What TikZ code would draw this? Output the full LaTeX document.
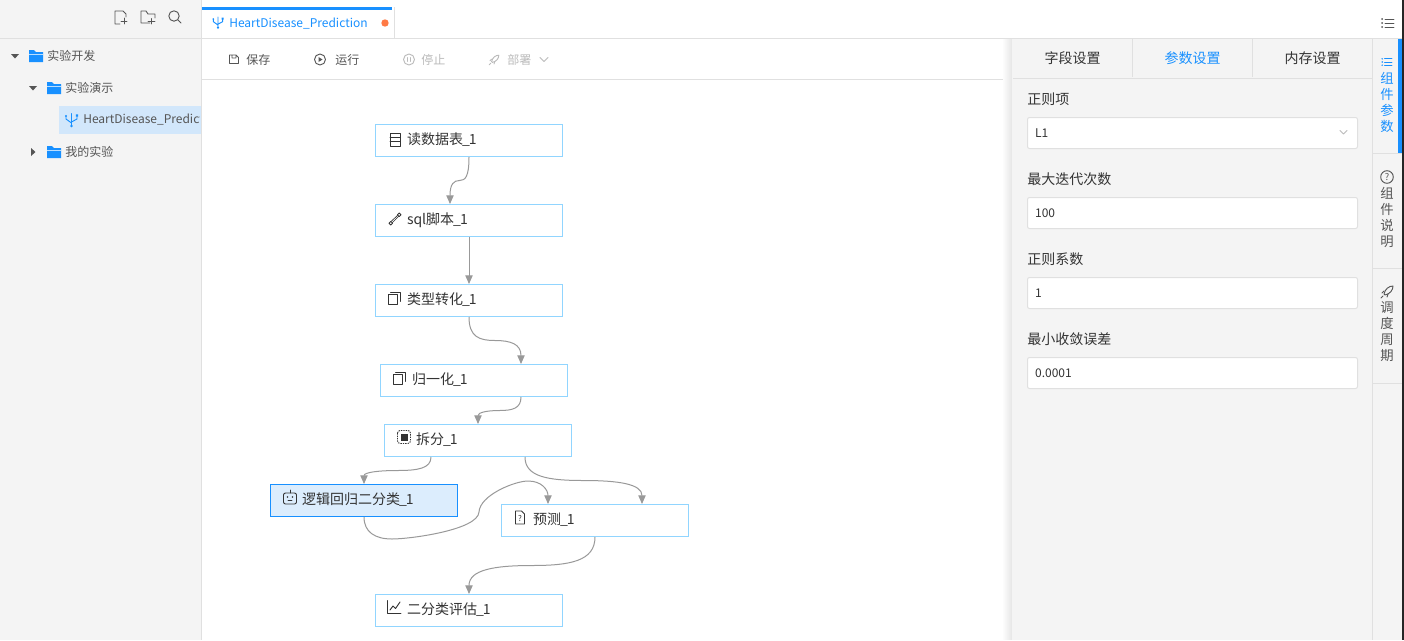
\documentclass[tikz,border=0pt]{standalone}
\usepackage{fontspec}
\setmainfont{Noto Sans CJK SC}
\usetikzlibrary{calc,arrows.meta}

\definecolor{sidebg}{HTML}{F4F4F4}
\definecolor{rulegray}{HTML}{E0E0E0}
\definecolor{antblue}{HTML}{1890FF}
\definecolor{nodeblue}{HTML}{91D5FF}
\definecolor{selblue}{HTML}{DCEDFD}
\definecolor{rowblue}{HTML}{D2E7FB}
\definecolor{inkgray}{HTML}{333333}
\definecolor{treegray}{HTML}{555555}
\definecolor{offgray}{HTML}{BBBBBB}
\definecolor{flowgray}{HTML}{999999}
\definecolor{dotorange}{HTML}{FF7A45}

\newcommand{\pxfont}[1]{\fontsize{#1}{#1}\selectfont}
\newcommand{\idx}{\kern-.75pt\_\kern-.75pt 1}

\tikzset{
  opnode/.style={draw=nodeblue, fill=white, line width=0.75pt, rectangle, minimum width=140.25pt, minimum height=24pt,
    inner xsep=23.6pt, inner ysep=0pt, text width=93pt, text height=8.5pt, text depth=2.5pt, align=left, text=inkgray, font=\pxfont{10.5pt}},
  selnode/.style={opnode, draw=antblue, fill=selblue},
  txt/.style={anchor=west, inner sep=0pt, text=#1, font=\pxfont{9pt}},
  txt/.default=treegray,
  tabtxt/.style={inner sep=0pt, text=#1, font=\pxfont{10.5pt}},
  tabtxt/.default=inkgray,
  field/.style={anchor=west, inner sep=0pt, text=inkgray, font=\pxfont{10.5pt}},
  inputbox/.style={draw=rulegray, fill=white, rounded corners=1.5pt, line width=0.75pt, minimum width=247.5pt, minimum height=23.25pt,
    inner xsep=5.5pt, inner ysep=0pt, text width=236pt, align=left, text=inkgray, font=\pxfont{9pt}},
  railtxt/.style={inner sep=0pt, text=#1, align=center, text width=12pt, font=\fontsize{10pt}{12pt}\selectfont},
  flowline/.style={draw=flowgray, line width=0.75pt, -{Triangle[length=6.5pt,width=5.5pt,fill=flowgray]}},
  % two quarter bends joined by a flat middle
  sbend/.style={to path={let \p1=(\tikztostart), \p2=(\tikztotarget), \n1={0.5*(\x1+\x2)}, \n2={0.5*(\y1+\y2)} in
    .. controls (\x1,{\y1+0.85*(\n2-\y1)}) and ({\x1+0.4*(\n1-\x1)},\n2) .. (\n1,\n2)
    .. controls ({\x2-0.4*(\x2-\n1)},\n2) and (\x2,{\y2-0.85*(\y2-\n2)}) .. (\tikztotarget)}},
  icon/.style={draw=#1, line width=0.7pt, line cap=round, line join=round},
  icon/.default=treegray,
  pics/foldericon/.style={code={
    \fill[antblue] (-7,-6) -- (-2,-6) -- (0,-4) -- (7,-4) -- (7,6) -- (-7,6) -- cycle;
    \fill[white!70!antblue] (-7,-2.5) rectangle (7,-1.5);
  }},
  pics/tableicon/.style={code={
    \draw[icon=inkgray] (-5,-6.5) rectangle (5,6.5) (-5,-2) -- (5,-2) (-5,2) -- (5,2);
  }},
  pics/wrenchicon/.style={code={
    \draw[icon=inkgray, line width=0.5pt] (-4,2.5) -- (3,-4) (-3,4) -- (4,-3);
    \draw[icon=inkgray, line width=0.6pt] (-4.2,4.2) circle (1.8) (4.2,-4.2) circle (1.8);
  }},
  pics/stackicon/.style={code={
    \draw[icon=inkgray] (-6,-3.5) rectangle (3.5,6);
    \draw[icon=inkgray] (-3.5,-6) -- (6,-6) -- (6,3.5);
  }},
  pics/chipicon/.style={code={
    \draw[icon=inkgray, line cap=butt, dash pattern=on 1pt off 0.8pt, rounded corners=2] (-6.5,-6.5) rectangle (6.5,6.5);
    \fill[inkgray] (-3.5,-3.5) rectangle (3.5,3.5);
  }},
  pics/roboticon/.style={code={
    \draw[icon=inkgray, rounded corners=1.5] (-6.5,-4.5) rectangle (6.5,6.5);
    \draw[icon=inkgray] (0,-4.5) -- (0,-7.5);
    \fill[inkgray] (-2.5,-0.5) circle (0.9) (2.5,-0.5) circle (0.9);
    \draw[icon=inkgray] (-2,3) -- (2,3);
  }},
  pics/queryicon/.style={code={
    \draw[icon=inkgray] (-4.5,-6.5) -- (1.5,-6.5) -- (4.5,-3.5) -- (4.5,6.5) -- (-4.5,6.5) -- cycle;
    \node[inner sep=0pt, text=inkgray, font=\pxfont{6pt}] (queryglyph) at (0,1) {?};
  }},
  pics/charticon/.style={code={
    \draw[icon=inkgray] (-6.5,-6.5) -- (-6.5,6) -- (7,6);
    \draw[icon=inkgray] (-4,3) -- (-1,-1) -- (1.5,1.5) -- (6,-5);
  }},
  pics/flowicon/.style={code={
    \draw[icon=#1] (0,-6.5) -- (0,6) (-5.5,-4) -- (-5.5,-1) -- (0,3) (5.5,-4.5) -- (5.5,-1) -- (0,2);
    \fill[#1] (-5.5,-4) circle (1.1) (4.4,-5.6) rectangle (6.6,-3.4) (0,6) circle (1.4);
  }},
  pics/rocketicon/.style={code={
    \draw[icon=#1] (-3,2) .. controls (-2,-3) and (2,-6) .. (6,-6) .. controls (6,-2) and (3,2) .. (-2,3) -- cycle;
    \draw[icon=#1] (-5,1) -- (-3,-1) (0,5) -- (1,2) (-6,6) -- (-4,4);
  }},
  pics/listicon/.style={code={
    \draw[icon=#1] (-3,-4) -- (6,-4) (-3,0) -- (6,0) (-3,4) -- (6,4);
    \fill[#1] (-6,-4) circle (1) (-6,0) circle (1) (-6,4) circle (1);
  }},
  pics/helpicon/.style={code={
    \draw[icon=treegray] (0,0) circle (6.3);
    \node[inner sep=0pt, text=treegray, font=\pxfont{7pt}] (helpglyph) at (0,0) {?};
  }},
}

\begin{document}
\begin{tikzpicture}[x=0.75pt, y=-0.75pt]
  \useasboundingbox (0,0) rectangle (1404,640);
  \fill[white] (0,0) rectangle (1404,640);

  % sidebar
  \fill[sidebg] (0,0) rectangle (201,640);
  \draw[rulegray] (201.5,0) -- (201.5,640);
  \draw[rulegray] (0,38.5) -- (1402,38.5);
  \draw[rulegray] (202,79.5) -- (1012,79.5);

  \draw[icon] (117,11) -- (123,11) -- (126,14) -- (126,17) (120,24) -- (115,24) -- (115,11) -- (117,11);
  \draw[icon] (124,18) -- (124,24) (121,21) -- (127,21);
  \draw[icon] (150,23) -- (141,23) -- (141,11) -- (146,11) -- (148,14) -- (155,14) -- (155,18);
  \draw[icon] (151,18.5) -- (151,24) (148,21) -- (155,21);
  \draw[icon] (174,16) circle (5.2) (178,20) -- (181,23);

  \fill[treegray] (11,54) -- (19,54) -- (15,58.5) -- cycle;
  \fill[treegray] (29,86) -- (37,86) -- (33,90.5) -- cycle;
  \fill[treegray] (31,148) -- (35.5,152) -- (31,156) -- cycle;
  \pic at (36,56) {foldericon};
  \pic at (54,88) {foldericon};
  \pic at (54,152) {foldericon};
  \node[txt] (devroot) at (47,56) {实验开发};
  \node[txt] (demofolder) at (65,88) {实验演示};
  \node[txt] (myfolder) at (65,152) {我的实验};
  \fill[rowblue] (59,106) rectangle (201,134);
  \pic at (71.5,120) {flowicon=antblue};
  \begin{scope}
    \clip (59,106) rectangle (199.5,134);
    \node[txt] (demofile) at (83,119.5) {HeartDisease\_Prediction};
  \end{scope}

  % tab and toolbar
  \fill[antblue] (202,7) rectangle (392,9.5);
  \draw[rulegray] (394.5,7) -- (394.5,38);
  \pic[scale=0.85] at (218,22.5) {flowicon=antblue};
  \node[txt=antblue] (tabname) at (229,23.5) {HeartDisease\_Prediction};
  \fill[dotorange] (385,23) circle (3.7);

  \draw[icon] (229.5,55) -- (236,55) -- (238.5,57.5) -- (238.5,63.5) -- (229.5,63.5) -- cycle (232,55) -- (232,58) -- (236,58) -- (236,55);
  \node[txt] (savebtn) at (246,59.5) {保存};
  \draw[icon] (320,59.5) circle (5.5);
  \fill[treegray] (318.5,57) -- (322.5,59.5) -- (318.5,62) -- cycle;
  \node[txt] (runbtn) at (335,59.5) {运行};
  \draw[icon=offgray] (409,59.5) circle (5.5) (407.5,57.5) -- (407.5,61.5) (410.5,57.5) -- (410.5,61.5);
  \node[txt=offgray] (stopbtn) at (421,59.5) {停止};
  \pic[scale=0.8] at (494,60) {rocketicon=offgray};
  \node[txt=offgray] (deploybtn) at (507,59.5) {部署};
  \draw[icon=offgray] (540,57.5) -- (544,61.5) -- (548,57.5);

  \pic at (1388,23) {listicon=treegray};

  % flow nodes
  \node[opnode] (readtable) at (469,140.5) {读数据表\idx};
  \node[opnode] (sqlscript) at (469,220.5) {sql脚本\idx};
  \node[opnode] (typecast) at (469,300.5) {类型转化\idx};
  \node[opnode] (normalize) at (474,380.5) {归一化\idx};
  \node[opnode] (splitdata) at (478,440.5) {拆分\idx};
  \node[selnode] (logreg) at (364,500.5) {逻辑回归二分类\idx};
  \node[opnode] (predict) at (595,520.5) {预测\idx};
  \node[opnode] (evaluate) at (469,610.5) {二分类评估\idx};

  \pic at (395,139.5) {tableicon};
  \pic at (395,219) {wrenchicon};
  \pic at (394,298) {stackicon};
  \pic at (399,378) {stackicon};
  \pic at (404,437) {chipicon};
  \pic at (290,497.5) {roboticon};
  \pic at (520,517.5) {queryicon};
  \pic at (394,607) {charticon};

  \coordinate (sqlin) at ($(sqlscript.north)+(-19,0)$);
  \coordinate (normin) at ($(normalize.north)+(47,0)$);
  \coordinate (normout) at ($(normalize.south)+(47,0)$);
  \coordinate (splitleft) at ($(splitdata.south)+(-47,0)$);
  \coordinate (splitright) at ($(splitdata.south)+(47,0)$);
  \coordinate (predleft) at ($(predict.north)+(-47,0)$);
  \coordinate (predright) at ($(predict.north)+(47,0)$);

  \draw[flowline, sbend] (readtable.south) to (sqlin);
  \draw[flowline] (sqlscript.south) -- (typecast.north);
  \draw[flowline, sbend] (typecast.south) to (normin);
  \draw[flowline, sbend] (normout) to (splitdata.north);
  \draw[flowline, sbend] (splitleft) to (logreg.north);
  \draw[flowline, sbend] (splitright) to (predright);
  \draw[flowline] (logreg.south) .. controls (364,532) and (375,539) .. (392,539)
    .. controls (410,539) and (478,530) .. (479,512)
    .. controls (480,495) and (515,481) .. (528,481)
    .. controls (542,481) and (548,490) .. (predleft);
  \draw[flowline, sbend] (predict.south) to (evaluate.north);

  % settings panel
  \foreach \s in {1,...,9}
    \fill[black!\s] (1002+\s,39) rectangle (1003+\s,640);
  \fill[sidebg] (1012,39) rectangle (1372,640);
  \draw[rulegray] (1013,78.5) -- (1372,78.5);
  \draw[rulegray] (1132.5,39) -- (1132.5,77) (1252.5,39) -- (1252.5,77);
  \node[tabtxt] (fieldtab) at (1072.5,58) {字段设置};
  \node[tabtxt=antblue] (paramtab) at (1192.5,58) {参数设置};
  \node[tabtxt] (memtab) at (1312.5,58) {内存设置};

  \node[field] (regname) at (1027,99) {正则项};
  \node[inputbox] (regbox) at (1192.5,133) {L1};
  \draw[icon=offgray] (1340,130.5) -- (1343.5,134) -- (1347,130.5);
  \node[field] (itername) at (1027,179) {最大迭代次数};
  \node[inputbox] (iterbox) at (1192.5,213) {100};
  \node[field] (coefname) at (1027,259) {正则系数};
  \node[inputbox] (coefbox) at (1192.5,293) {1};
  \node[field] (tolname) at (1027,339) {最小收敛误差};
  \node[inputbox] (tolbox) at (1192.5,373) {0.0001};

  % right rail
  \fill[sidebg] (1372.5,39) rectangle (1402,640);
  \draw[rulegray] (1372.5,39) -- (1372.5,640);
  \draw[rulegray] (1372.5,153.5) -- (1402,153.5) (1372.5,268.5) -- (1402,268.5) (1372.5,383.5) -- (1402,383.5);
  \fill[antblue] (1398,39) rectangle (1402,153);
  \pic[scale=0.8] at (1387,62) {listicon=antblue};
  \node[railtxt=antblue] (railparam) at (1387,102) {组\\件\\参\\数};
  \pic at (1387,177) {helpicon};
  \node[railtxt=treegray] (railhelp) at (1387,217) {组\\件\\说\\明};
  \pic at (1387,292) {rocketicon=treegray};
  \node[railtxt=treegray] (railcron) at (1387,332) {调\\度\\周\\期};
  \fill[black!85] (1402,0) rectangle (1404,640);
\end{tikzpicture}
\end{document}
